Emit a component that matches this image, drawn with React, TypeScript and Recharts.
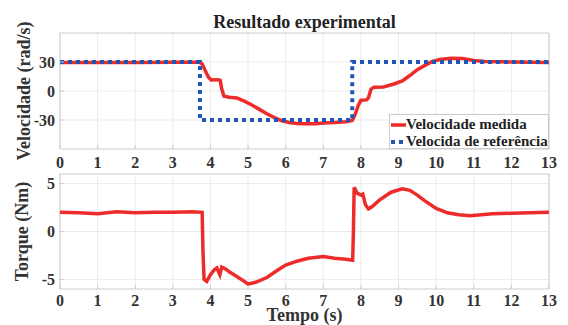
import React from 'react';
import {
  LineChart,
  Line,
  XAxis,
  YAxis,
  CartesianGrid,
  Legend,
  ReferenceArea,
  Label,
} from 'recharts';

const timeTicks = [0, 1, 2, 3, 4, 5, 6, 7, 8, 9, 10, 11, 12, 13];
const speedTicks = [-30, 0, 30];
const torqueTicks = [-5, 0, 5];
const legendOrder = ['Velocidade medida', 'Velocida de referência'];

// velocidade medida (rad/s)
const speedTime = [
  0, 1, 2, 3, 3.7, 3.78, 3.85, 3.95, 4.02, 4.2, 4.26, 4.3, 4.36, 4.5, 4.7, 4.9,
  5.1, 5.3, 5.5, 5.7, 5.9, 6.1, 6.3, 6.5, 6.8, 7.0, 7.3, 7.6, 7.77, 7.85, 7.93,
  8.0, 8.15, 8.2, 8.27, 8.35, 8.6, 8.9, 9.1, 9.3, 9.5, 9.7, 9.9, 10.1, 10.4,
  10.7, 11.0, 11.3, 11.7, 12, 12.5, 13,
];
const speedMeasured = [
  29.5, 29.5, 29.5, 29.7, 29.8, 28, 22, 14, 11.5, 11.7, 11, 2, -5.5, -6.5, -7.2,
  -10.5, -14.5, -19, -23.5, -27.5, -30.8, -32.5, -33.5, -34, -33.8, -33.2, -32.5,
  -31.8, -30.5, -24, -15, -9.5, -9.2, -7, 2, 4, 4.2, 7.5, 10.5, 16, 22, 26.5,
  30.5, 32.5, 33.8, 33.5, 31.5, 30.5, 30.2, 30, 29.8, 29.4,
];

// velocidade de referencia (rad/s)
const refTime = [0, 3.72, 3.72, 7.77, 7.77, 13];
const refSpeed = [30, 30, -30, -30, 30, 30];

// torque (Nm)
const torqueTime = [
  0, 0.5, 1, 1.5, 2, 2.5, 3, 3.5, 3.78, 3.8, 3.83, 3.9, 4.0, 4.1, 4.17, 4.25,
  4.3, 4.4, 4.5, 4.7, 4.9, 5.0, 5.2, 5.5, 5.8, 6.0, 6.3, 6.6, 7.0, 7.3, 7.6,
  7.78, 7.8, 7.82, 7.9, 8.0, 8.05, 8.12, 8.2, 8.3, 8.5, 8.8, 9.1, 9.3, 9.5, 9.7,
  10.0, 10.3, 10.6, 10.9, 11.2, 11.5, 12, 12.5, 13,
];
const torqueValues = [
  2.0, 1.95, 1.85, 2.05, 1.95, 2.0, 2.0, 2.05, 2.0, -2, -5.0, -5.2, -4.5, -4.0,
  -3.8, -4.5, -3.7, -3.9, -4.2, -4.7, -5.2, -5.5, -5.3, -4.8, -4.0, -3.5, -3.1,
  -2.8, -2.6, -2.8, -2.9, -3.0, 0, 4.6, 4.0, 3.8, 3.9, 2.8, 2.35, 2.6, 3.3, 4.1,
  4.45, 4.3, 3.8, 3.2, 2.4, 1.95, 1.75, 1.65, 1.75, 1.85, 1.9, 1.95, 2.0,
];

const measuredRows = speedTime.map((t, i) => ({ t, v: speedMeasured[i] }));
const refRows = refTime.map((t, i) => ({ t, v: refSpeed[i] }));
const torqueRows = torqueTime.map((t, i) => ({ t, v: torqueValues[i] }));

const FONT = "'Liberation Serif', 'Times New Roman', serif";
const RED = '#ee2b2b';
const BLUE = '#1f55b3';
const BOX = '#cccccc';
const GRID = '#ebebeb';
const TEXT = '#333333';

const tickStyle = { fontFamily: FONT, fontSize: 16, fontWeight: 700, fill: TEXT };
const labelStyle = { fontFamily: FONT, fontSize: 18, fontWeight: 700, fill: TEXT };

function SpeedLegend({ payload }: any) {
  const items = [...(payload || [])].sort(
    (a: any, b: any) => legendOrder.indexOf(a.value) - legendOrder.indexOf(b.value)
  );
  return (
    <div
      style={{
        boxSizing: 'border-box',
        width: 160,
        height: 35,
        border: `1px solid ${BOX}`,
        background: '#fff',
        paddingTop: 1,
        fontFamily: FONT,
        fontWeight: 700,
        fontSize: 15,
        color: '#222',
        whiteSpace: 'nowrap',
        overflow: 'visible',
      }}
    >
      {items.map((entry: any) => (
        <div key={entry.value} style={{ display: 'flex', alignItems: 'center', height: 17 }}>
          <svg width={15} height={6} style={{ marginLeft: 1, flexShrink: 0 }}>
            <line
              x1={0}
              y1={3}
              x2={15}
              y2={3}
              stroke={entry.color}
              strokeWidth={entry.payload?.strokeDasharray ? 4 : 3.5}
              strokeDasharray={entry.payload?.strokeDasharray}
            />
          </svg>
          <span style={{ lineHeight: '17px' }}>{entry.value}</span>
        </div>
      ))}
    </div>
  );
}

export default function App() {
  return (
    <div style={{ position: 'absolute', left: 0, top: 0, width: 568, height: 325, background: '#fff' }}>
      <div
        style={{
          position: 'absolute',
          left: 60,
          width: 489,
          top: 13,
          textAlign: 'center',
          fontFamily: FONT,
          fontWeight: 700,
          fontSize: 18,
          lineHeight: '18px',
          color: '#222',
        }}
      >
        Resultado experimental
      </div>

      <div style={{ position: 'absolute', left: 0, top: 0 }}>
        <LineChart width={568} height={170} margin={{ top: 33, right: 19, bottom: 0, left: 0 }}>
          <CartesianGrid stroke={GRID} verticalValues={timeTicks} horizontalValues={speedTicks} />
          <XAxis
            dataKey="t"
            type="number"
            domain={[0, 13]}
            ticks={timeTicks}
            allowDataOverflow
            height={21}
            tick={tickStyle}
            tickSize={-4}
            tickMargin={12}
            stroke={BOX}
            axisLine={false}
          />
          <YAxis
            type="number"
            domain={[-60, 60]}
            ticks={speedTicks}
            width={60}
            tick={tickStyle}
            tickSize={-4}
            tickMargin={9}
            stroke={BOX}
            axisLine={false}
          >
            <Label value="Velocidade (rad/s)" angle={-90} position="center" dx={-6} style={labelStyle} />
          </YAxis>
          <ReferenceArea x1={0} x2={13} y1={-60} y2={60} fill="none" stroke={BOX} strokeWidth={1} />
          <Legend
            layout="vertical"
            align="center"
            verticalAlign="middle"
            wrapperStyle={{ left: 389, top: 114, width: 160, height: 35 }}
            content={<SpeedLegend />}
          />
          <Line
            data={measuredRows}
            dataKey="v"
            name="Velocidade medida"
            type="linear"
            stroke={RED}
            strokeWidth={3.5}
            dot={false}
            isAnimationActive={false}
          />
          <Line
            data={refRows}
            dataKey="v"
            name="Velocida de referência"
            type="linear"
            stroke={BLUE}
            strokeWidth={4}
            strokeDasharray="4 4"
            dot={false}
            isAnimationActive={false}
          />
        </LineChart>
      </div>

      <div style={{ position: 'absolute', left: 0, top: 160 }}>
        <LineChart width={568} height={165} margin={{ top: 14, right: 19, bottom: 15, left: 0 }}>
          <CartesianGrid stroke={GRID} verticalValues={timeTicks} horizontalValues={torqueTicks} />
          <XAxis
            dataKey="t"
            type="number"
            domain={[0, 13]}
            ticks={timeTicks}
            allowDataOverflow
            height={21}
            tick={tickStyle}
            tickSize={-4}
            tickMargin={10}
            stroke={BOX}
            axisLine={false}
          >
            <Label value="Tempo (s)" position="bottom" offset={-2} style={labelStyle} />
          </XAxis>
          <YAxis
            type="number"
            domain={[-6, 6]}
            ticks={torqueTicks}
            width={60}
            tick={tickStyle}
            tickSize={-4}
            tickMargin={9}
            stroke={BOX}
            axisLine={false}
          >
            <Label value="Torque (Nm)" angle={-90} position="center" dx={-8.5} style={labelStyle} />
          </YAxis>
          <ReferenceArea x1={0} x2={13} y1={-6} y2={6} fill="none" stroke={BOX} strokeWidth={1} />
          <Line
            data={torqueRows}
            dataKey="v"
            name="Torque"
            type="linear"
            stroke={RED}
            strokeWidth={3.5}
            dot={false}
            isAnimationActive={false}
          />
        </LineChart>
      </div>
    </div>
  );
}
